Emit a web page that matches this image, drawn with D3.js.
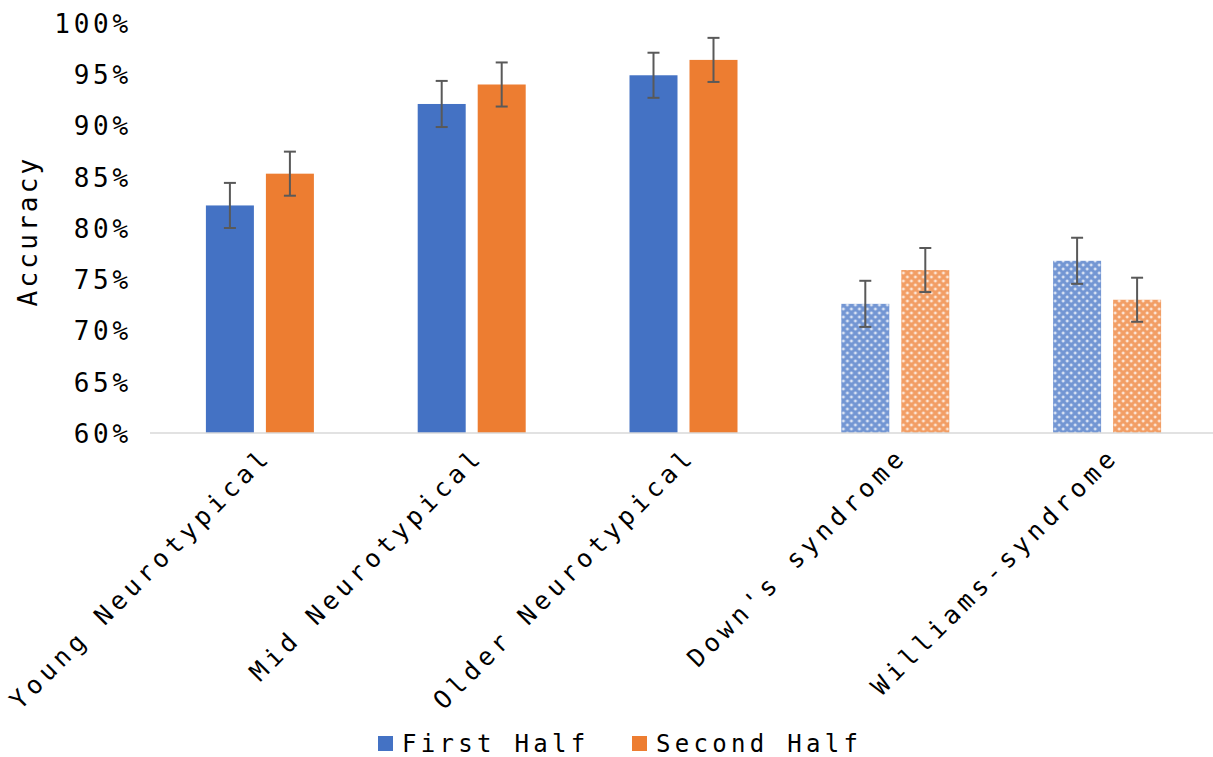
<!DOCTYPE html>
<html>
<head>
<meta charset="utf-8">
<script src="https://cdn.jsdelivr.net/npm/d3@7"></script>
<style>
  body { margin: 0; background: #fff; }
  text { font-family: "DejaVu Sans Mono", monospace; fill: #000; }
</style>
</head>
<body>
<div id="chart"></div>
<script>
const categories = ["Young Neurotypical", "Mid Neurotypical", "Older Neurotypical", "Down's syndrome", "Williams-syndrome"];
const series = ["First Half", "Second Half"];
const firstHalf = [82.2, 92.1, 94.9, 72.6, 76.8];
const secondHalf = [85.3, 94.0, 96.4, 75.9, 73.0];
const firstErr = [2.2, 2.25, 2.2, 2.25, 2.25];
const secondErr = [2.15, 2.15, 2.15, 2.15, 2.15];
const patterned = [false, false, false, true, true];
const yTicks = [60, 65, 70, 75, 80, 85, 90, 95, 100];

const W = 1213, H = 757;
const margin = { top: 23, right: 0, bottom: 324, left: 154 };
const width = W - margin.left - margin.right,
      height = H - margin.top - margin.bottom;
const colors = ["#4472c4", "#ed7d31"];

const svg = d3.select("#chart").append("svg")
  .attr("width", W).attr("height", H);

// lattice patterns for the syndrome groups
const defs = svg.append("defs");
colors.forEach((c, i) => {
  const p = defs.append("pattern")
    .attr("id", "pat" + i)
    .attr("patternUnits", "userSpaceOnUse")
    .attr("width", 8).attr("height", 8);
  p.append("rect").attr("width", 8).attr("height", 8).attr("fill", "#fff");
  p.append("rect").attr("width", 8).attr("height", 8).attr("fill", c).attr("opacity", 0.75);
  p.append("path")
    .attr("d", "M2,0.5V3.5M0.5,2H3.5M6,4.5V7.5M4.5,6H7.5")
    .attr("stroke", "#fff").attr("stroke-width", 1.1).attr("opacity", 0.95);
});

const g = svg.append("g").attr("transform", `translate(${margin.left},${margin.top})`);

const x0 = d3.scaleBand().domain(categories).range([0, width]);
const x1 = d3.scaleBand().domain(series).range([x0.bandwidth() / 2 - 54, x0.bandwidth() / 2 + 54]).paddingInner(0.2);
const y = d3.scaleLinear().domain([60, 100]).range([height, 0]);

// y axis
const yAxis = g.append("g")
  .call(d3.axisLeft(y).tickValues(yTicks).tickFormat(d => d + "%").tickSize(0).tickPadding(22));
yAxis.select(".domain").remove();
yAxis.selectAll("text")
  .style("font-size", "26px").style("letter-spacing", "3.8px")
  .attr("dy", "0.36em");

svg.append("text")
  .attr("transform", `translate(37,${margin.top + height / 2 + 3}) rotate(-90)`)
  .attr("text-anchor", "middle")
  .style("font-size", "26px").style("letter-spacing", "3.2px")
  .text("Accuracy");

const rows = categories.map((c, i) => ({
  cat: c, i,
  vals: [
    { s: 0, v: firstHalf[i], e: firstErr[i] },
    { s: 1, v: secondHalf[i], e: secondErr[i] }
  ]
}));

const grp = g.selectAll("g.cat").data(rows).enter().append("g")
  .attr("class", "cat")
  .attr("transform", d => `translate(${x0(d.cat)},0)`);

grp.selectAll("rect").data(d => d.vals.map(v => ({ ...v, pat: patterned[d.i] })))
  .enter().append("rect")
  .attr("x", d => x1(series[d.s]))
  .attr("width", x1.bandwidth())
  .attr("y", d => y(d.v))
  .attr("height", d => y(60) - y(d.v))
  .attr("fill", d => d.pat ? `url(#pat${d.s})` : colors[d.s]);

// error bars
const eb = grp.selectAll("g.err").data(d => d.vals).enter().append("g")
  .attr("class", "err")
  .attr("stroke", "#595959").attr("stroke-width", 2);
eb.append("line")
  .attr("x1", d => x1(series[d.s]) + x1.bandwidth() / 2)
  .attr("x2", d => x1(series[d.s]) + x1.bandwidth() / 2)
  .attr("y1", d => y(d.v + d.e)).attr("y2", d => y(d.v - d.e));
[1, -1].forEach(sg => {
  eb.append("line")
    .attr("x1", d => x1(series[d.s]) + x1.bandwidth() / 2 - 6)
    .attr("x2", d => x1(series[d.s]) + x1.bandwidth() / 2 + 6)
    .attr("y1", d => y(d.v + sg * d.e)).attr("y2", d => y(d.v + sg * d.e));
});

// x axis line
g.append("line")
  .attr("x1", -4).attr("x2", width)
  .attr("y1", height).attr("y2", height)
  .attr("stroke", "#d9d9d9").attr("stroke-width", 1.5);

// x labels
g.selectAll("text.xl").data(categories).enter().append("text")
  .attr("class", "xl")
  .attr("text-anchor", "end")
  .attr("transform", d => `translate(${x0(d) + x0.bandwidth() / 2 + 13},${height + 25}) rotate(-45)`)
  .style("font-size", "25px").style("letter-spacing", "4.8px")
  .text(d => d);

// legend
const legend = svg.append("g").attr("transform", `translate(0,752)`);
const lx = [378, 632];
series.forEach((s, i) => {
  legend.append("rect").attr("x", lx[i]).attr("y", -16).attr("width", 15).attr("height", 15).attr("fill", colors[i]);
  legend.append("text").attr("x", lx[i] + 24).attr("y", 0)
    .style("font-size", "24px").style("letter-spacing", "4.3px")
    .text(s);
});
</script>
</body>
</html>
